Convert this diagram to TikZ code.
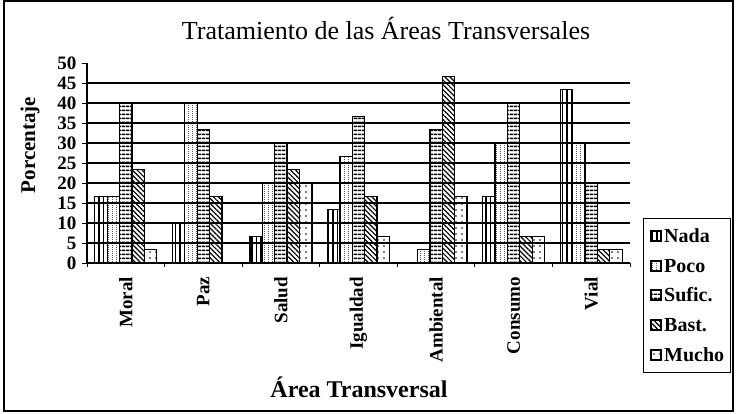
\documentclass[tikz,border=0pt]{standalone}
\usepackage{fontspec}
\setmainfont{Liberation Serif}
\usepackage{tikz}
\usetikzlibrary{patterns,patterns.meta}
% dotted columns for Poco
\pgfdeclarepatternformonly{pocodots}{\pgfqpoint{0pt}{0pt}}{\pgfqpoint{4pt}{2pt}}{\pgfqpoint{4pt}{2pt}}{%
\pgfpathrectangle{\pgfqpoint{0pt}{0pt}}{\pgfqpoint{1pt}{1pt}}\pgfusepath{fill}}
% one bar: group, place in group, value, pattern
\newcommand\areabar[4]{\draw[barline,#4] ({#1+0.1+0.16*#2},0) rectangle ({#1+0.26+0.16*#2},#3);}

\begin{document}
\begin{tikzpicture}[x=1pt,y=1pt,
  barline/.style={draw=black,line width=1.3pt},
  nada/.style={pattern={Lines[angle=90,distance=4.5pt,line width=1.3pt]}},
  poco/.style={pattern=pocodots},
  sufic/.style={pattern={Lines[angle=0,distance=4pt,line width=1.6pt]}},
  bast/.style={pattern={Lines[angle=-45,distance=3.5pt,line width=1.2pt]}},
  mucho/.style={pattern={Dots[distance=6pt,radius=0.9pt]}},
  ticklabel/.style={anchor=east,inner sep=1pt,font=\fontsize{19}{19}\selectfont\bfseries},
  catlabel/.style={rotate=90,anchor=east,inner sep=1pt,font=\fontsize{19}{19}\selectfont\bfseries},
  legtext/.style={anchor=west,inner sep=1pt,font=\fontsize{20}{20}\selectfont\bfseries}]
\useasboundingbox (0,0) rectangle (736,414);

% to draw the outer frame
\draw [line width=1.5pt] (4,3) rectangle (733,413);

% to write titles
\node (title) [anchor=base,font=\fontsize{26}{26}\selectfont] at (386,374) {Tratamiento de las Áreas Transversales};
\node (ytitle) [rotate=90,font=\fontsize{21}{21}\selectfont\bfseries] at (30,269) {Porcentaje};
\node (xtitle) [anchor=base,font=\fontsize{24}{24}\selectfont\bfseries] at (359,16) {Área Transversal};

%Chart area:
\begin{scope}[shift={(87pt,151pt)},x=77.57pt,y=4pt]
% grid and axes
\draw [line width=1.1pt] (0,5) -- (7,5) (0,10) -- (7,10) (0,15) -- (7,15) (0,20) -- (7,20) (0,25) -- (7,25)
  (0,30) -- (7,30) (0,35) -- (7,35) (0,40) -- (7,40) (0,45) -- (7,45);
\draw [line width=1.1pt] (0,0) -- (0,50) (0,0) -- (7,0);
\draw [line width=0.9pt] (-0.07,0) -- (0,0) (-0.07,5) -- (0,5) (-0.07,10) -- (0,10) (-0.07,15) -- (0,15)
  (-0.07,20) -- (0,20) (-0.07,25) -- (0,25) (-0.07,30) -- (0,30) (-0.07,35) -- (0,35)
  (-0.07,40) -- (0,40) (-0.07,45) -- (0,45) (-0.07,50) -- (0,50);
\draw [line width=0.9pt] (0,0) -- (0,-1) (1,0) -- (1,-1) (2,0) -- (2,-1) (3,0) -- (3,-1)
  (4,0) -- (4,-1) (5,0) -- (5,-1) (6,0) -- (6,-1) (7,0) -- (7,-1);

% to write y values
\node (y0) [ticklabel] at (-0.12,0) {0};
\node (y5) [ticklabel] at (-0.12,5) {5};
\node (y10) [ticklabel] at (-0.12,10) {10};
\node (y15) [ticklabel] at (-0.12,15) {15};
\node (y20) [ticklabel] at (-0.12,20) {20};
\node (y25) [ticklabel] at (-0.12,25) {25};
\node (y30) [ticklabel] at (-0.12,30) {30};
\node (y35) [ticklabel] at (-0.12,35) {35};
\node (y40) [ticklabel] at (-0.12,40) {40};
\node (y45) [ticklabel] at (-0.12,45) {45};
\node (y50) [ticklabel] at (-0.12,50) {50};

%Moral:
\areabar{0}{0}{16.67}{nada} \areabar{0}{1}{16.67}{poco} \areabar{0}{2}{40}{sufic} \areabar{0}{3}{23.33}{bast} \areabar{0}{4}{3.33}{mucho}
%Paz:
\areabar{1}{0}{10}{nada} \areabar{1}{1}{40}{poco} \areabar{1}{2}{33.33}{sufic} \areabar{1}{3}{16.67}{bast}
%Salud:
\areabar{2}{0}{6.67}{nada} \areabar{2}{1}{20}{poco} \areabar{2}{2}{30}{sufic} \areabar{2}{3}{23.33}{bast} \areabar{2}{4}{20}{mucho}
%Igualdad:
\areabar{3}{0}{13.33}{nada} \areabar{3}{1}{26.67}{poco} \areabar{3}{2}{36.67}{sufic} \areabar{3}{3}{16.67}{bast} \areabar{3}{4}{6.67}{mucho}
%Ambiental:
\areabar{4}{1}{3.33}{poco} \areabar{4}{2}{33.33}{sufic} \areabar{4}{3}{46.67}{bast} \areabar{4}{4}{16.67}{mucho}
%Consumo:
\areabar{5}{0}{16.67}{nada} \areabar{5}{1}{30}{poco} \areabar{5}{2}{40}{sufic} \areabar{5}{3}{6.67}{bast} \areabar{5}{4}{6.67}{mucho}
%Vial:
\areabar{6}{0}{43.33}{nada} \areabar{6}{1}{30}{poco} \areabar{6}{2}{20}{sufic} \areabar{6}{3}{3.33}{bast} \areabar{6}{4}{3.33}{mucho}

% to write the areas
\node (moral) [catlabel] at (0.5,-3.2) {Moral};
\node (paz) [catlabel] at (1.5,-3.2) {Paz};
\node (salud) [catlabel] at (2.5,-3.2) {Salud};
\node (igualdad) [catlabel] at (3.5,-3.2) {Igualdad};
\node (ambiental) [catlabel] at (4.5,-3.2) {Ambiental};
\node (consumo) [catlabel] at (5.5,-3.2) {Consumo};
\node (vial) [catlabel] at (6.5,-3.2) {Vial};
\end{scope}

%Legend:
\draw [line width=0.8pt] (643,42) rectangle (730,196);
\draw [barline,nada] (651,173) rectangle (661,183);
\node (lnada) [legtext] at (663,178) {Nada};
\draw [barline,poco] (651,143) rectangle (661,153);
\node (lpoco) [legtext] at (663,148) {Poco};
\draw [barline,sufic] (651,114) rectangle (661,124);
\node (lsufic) [legtext] at (663,119) {Sufic.};
\draw [barline,bast] (651,84) rectangle (661,94);
\node (lbast) [legtext] at (663,89) {Bast.};
\draw [barline,mucho] (651,54) rectangle (661,64);
\node (lmucho) [legtext] at (663,59) {Mucho};
\end{tikzpicture}
\end{document}
